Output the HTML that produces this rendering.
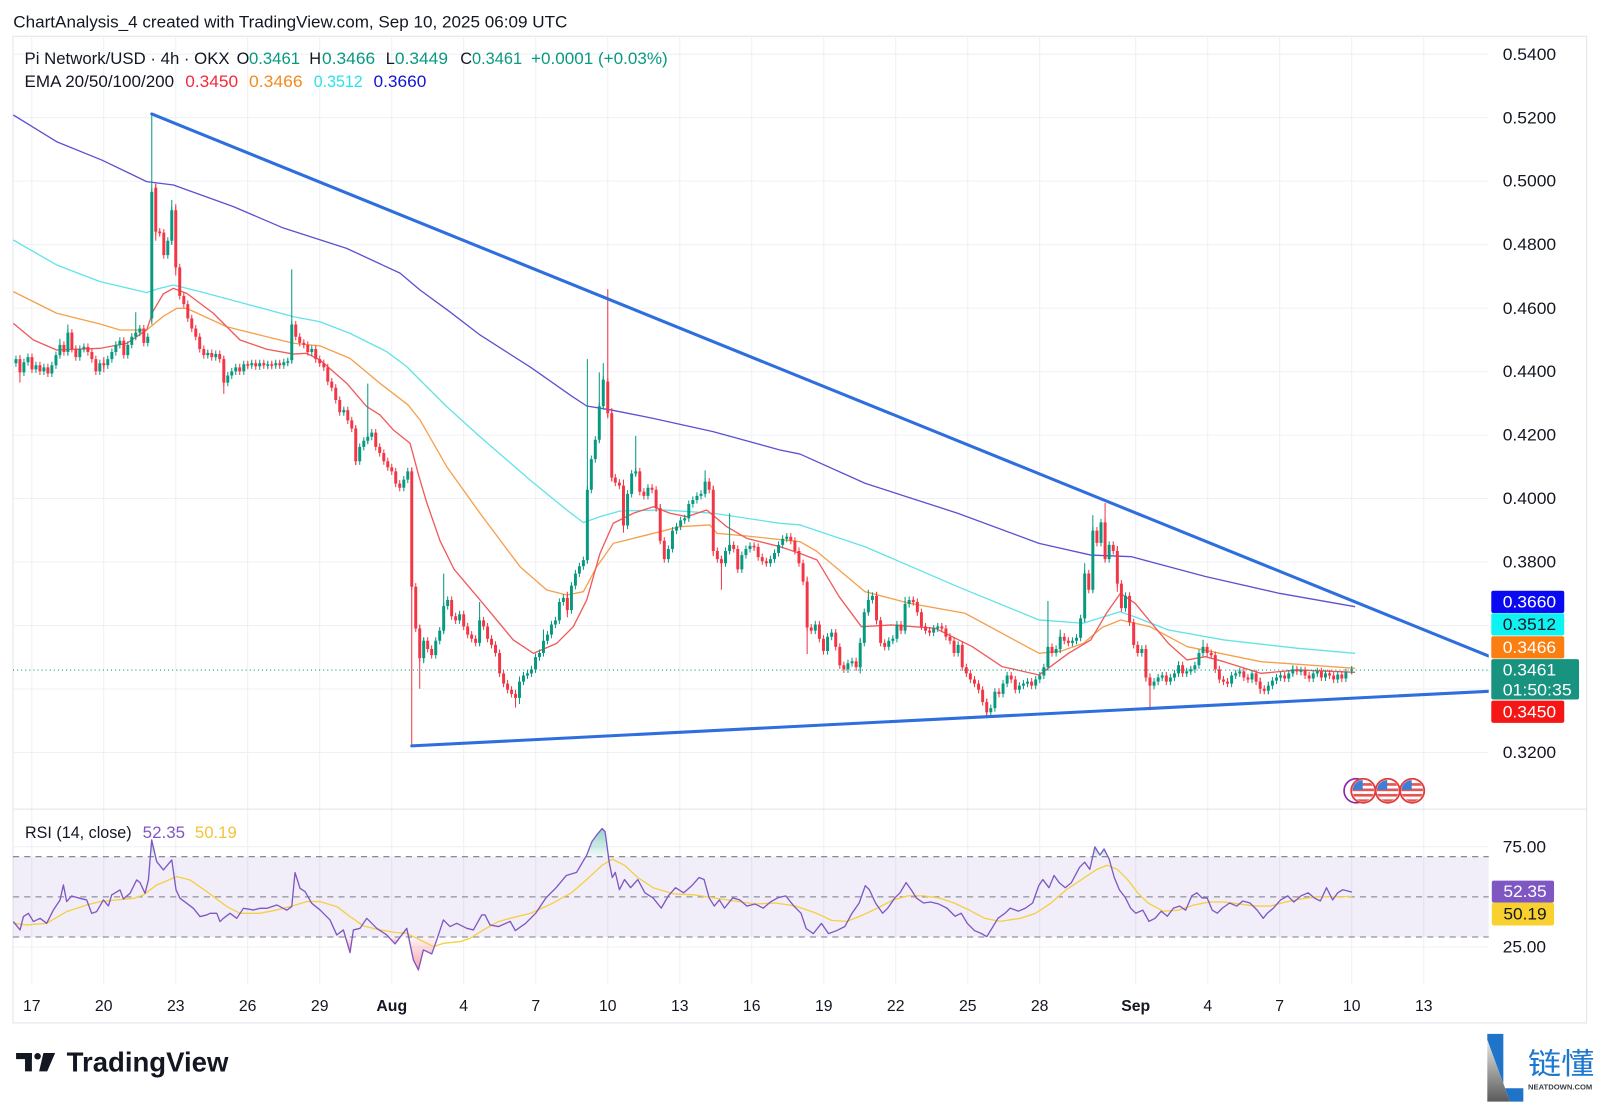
<!DOCTYPE html>
<html><head><meta charset="utf-8">
<style>
html,body{margin:0;padding:0;background:#fff;overflow:hidden;}
svg{display:block;}
text{font-family:"Liberation Sans",Arial,sans-serif;}
</style></head>
<body>
<svg width="1600" height="1103" viewBox="0 0 1568 1081" xmlns="http://www.w3.org/2000/svg">
<defs>
  <clipPath id="mainclip"><rect x="12.7" y="35.5" width="1446.3" height="757.5"/></clipPath>
  <clipPath id="fc"><circle cx="0" cy="0" r="10.6"/></clipPath>
  <linearGradient id="gg" x1="0" y1="0" x2="0" y2="1"><stop offset="0" stop-color="#e6e6e6"/><stop offset="1" stop-color="#5a5a5a"/></linearGradient>
  <linearGradient id="pinkg" x1="0" y1="0" x2="0" y2="1"><stop offset="0" stop-color="#f23645" stop-opacity="0.05"/><stop offset="1" stop-color="#f23645" stop-opacity="0.45"/></linearGradient>
  <linearGradient id="greeng" x1="0" y1="1" x2="0" y2="0"><stop offset="0" stop-color="#089981" stop-opacity="0.05"/><stop offset="1" stop-color="#089981" stop-opacity="0.45"/></linearGradient>
  <marker id="wg" markerUnits="userSpaceOnUse" markerWidth="4" markerHeight="10" refX="2" refY="5" viewBox="0 0 4 10" overflow="visible">
    <line x1="2" y1="1.5" x2="2" y2="8.5" stroke="#089981" stroke-width="1"/>
  </marker>
  <marker id="wr" markerUnits="userSpaceOnUse" markerWidth="4" markerHeight="10" refX="2" refY="5" viewBox="0 0 4 10" overflow="visible">
    <line x1="2" y1="1.5" x2="2" y2="8.5" stroke="#f23645" stroke-width="1"/>
  </marker>
  <g id="flag">
    <circle r="11.8" fill="#fff" stroke="#e23b3b" stroke-width="1.8"/>
    <g clip-path="url(#fc)">
      <rect x="-11" y="-11" width="22" height="22" fill="#fff"/>
      <rect x="-11" y="-7.5" width="22" height="2.6" fill="#e35656"/>
      <rect x="-11" y="-2.2" width="22" height="2.6" fill="#e35656"/>
      <rect x="-11" y="3.1" width="22" height="2.6" fill="#e35656"/>
      <rect x="-11" y="8.4" width="22" height="2.6" fill="#e35656"/>
      <rect x="-11" y="-11" width="10.5" height="10" fill="#3d7fd6"/>
    </g>
  </g>
</defs>

<!-- header -->
<text x="13" y="27" font-size="16.5" fill="#131722" textLength="543" lengthAdjust="spacingAndGlyphs">ChartAnalysis_4 created with TradingView.com, Sep 10, 2025 06:09 UTC</text>

<!-- frame -->
<rect x="12.7" y="35.5" width="1542.3" height="967" fill="none" stroke="#e0e3eb" stroke-width="1"/>

<!-- grid -->
<g stroke="#eef0f5" stroke-width="1">
  <line x1="12.7" x2="1459" y1="53.1" y2="53.1"/>
  <line x1="12.7" x2="1459" y1="115.3" y2="115.3"/>
  <line x1="12.7" x2="1459" y1="177.5" y2="177.5"/>
  <line x1="12.7" x2="1459" y1="239.7" y2="239.7"/>
  <line x1="12.7" x2="1459" y1="302" y2="302"/>
  <line x1="12.7" x2="1459" y1="364.2" y2="364.2"/>
  <line x1="12.7" x2="1459" y1="426.4" y2="426.4"/>
  <line x1="12.7" x2="1459" y1="488.6" y2="488.6"/>
  <line x1="12.7" x2="1459" y1="550.8" y2="550.8"/>
  <line x1="12.7" x2="1459" y1="613" y2="613"/>
  <line x1="12.7" x2="1459" y1="675.3" y2="675.3"/>
  <line x1="12.7" x2="1459" y1="737.5" y2="737.5"/>
  <line x1="12.7" x2="1459" y1="829.8" y2="829.8"/>
  <line x1="12.7" x2="1459" y1="928.1" y2="928.1"/>
  <line x1="31.1" x2="31.1" y1="35.5" y2="965"/>
  <line x1="101.6" x2="101.6" y1="35.5" y2="965"/>
  <line x1="172.2" x2="172.2" y1="35.5" y2="965"/>
  <line x1="242.7" x2="242.7" y1="35.5" y2="965"/>
  <line x1="313.3" x2="313.3" y1="35.5" y2="965"/>
  <line x1="383.9" x2="383.9" y1="35.5" y2="965"/>
  <line x1="454.4" x2="454.4" y1="35.5" y2="965"/>
  <line x1="525" x2="525" y1="35.5" y2="965"/>
  <line x1="595.6" x2="595.6" y1="35.5" y2="965"/>
  <line x1="666.2" x2="666.2" y1="35.5" y2="965"/>
  <line x1="736.7" x2="736.7" y1="35.5" y2="965"/>
  <line x1="807.3" x2="807.3" y1="35.5" y2="965"/>
  <line x1="877.8" x2="877.8" y1="35.5" y2="965"/>
  <line x1="948.4" x2="948.4" y1="35.5" y2="965"/>
  <line x1="1018.9" x2="1018.9" y1="35.5" y2="965"/>
  <line x1="1113" x2="1113" y1="35.5" y2="965"/>
  <line x1="1183.6" x2="1183.6" y1="35.5" y2="965"/>
  <line x1="1254.1" x2="1254.1" y1="35.5" y2="965"/>
  <line x1="1324.7" x2="1324.7" y1="35.5" y2="965"/>
  <line x1="1395.3" x2="1395.3" y1="35.5" y2="965"/>
</g>
<line x1="12.7" x2="1555" y1="793" y2="793" stroke="#e0e3eb" stroke-width="1"/>

<!-- legend -->
<g font-size="16" fill="#131722">
  <text x="24" y="62.8" textLength="201" lengthAdjust="spacingAndGlyphs">Pi Network/USD · 4h · OKX</text>
  <text x="231.9" y="62.8">O</text>
  <text x="244" y="62.8" fill="#089981" textLength="50" lengthAdjust="spacingAndGlyphs">0.3461</text>
  <text x="303" y="62.8">H</text>
  <text x="315.6" y="62.8" fill="#089981" textLength="52" lengthAdjust="spacingAndGlyphs">0.3466</text>
  <text x="378" y="62.8">L</text>
  <text x="387" y="62.8" fill="#089981" textLength="52" lengthAdjust="spacingAndGlyphs">0.3449</text>
  <text x="451" y="62.8">C</text>
  <text x="462.6" y="62.8" fill="#089981" textLength="49" lengthAdjust="spacingAndGlyphs">0.3461</text>
  <text x="520.4" y="62.8" fill="#089981" textLength="134" lengthAdjust="spacingAndGlyphs">+0.0001 (+0.03%)</text>
  <text x="24" y="85.1" textLength="146.6" lengthAdjust="spacingAndGlyphs">EMA 20/50/100/200</text>
  <text x="181.5" y="85.1" fill="#f2293a" textLength="51.8" lengthAdjust="spacingAndGlyphs">0.3450</text>
  <text x="244" y="85.1" fill="#f58a1f" textLength="52.6" lengthAdjust="spacingAndGlyphs">0.3466</text>
  <text x="307.5" y="85.1" fill="#28e3ea" textLength="47.8" lengthAdjust="spacingAndGlyphs">0.3512</text>
  <text x="366" y="85.1" fill="#1212d8" textLength="51.8" lengthAdjust="spacingAndGlyphs">0.3660</text>
</g>

<!-- main pane content -->
<g clip-path="url(#mainclip)">
  <g fill="none" stroke-width="1.3" stroke-linejoin="round">
    <polyline stroke="#5b51d2" points="13,112.7 55.5,138.9 100,157 143.7,178 169.9,181.3 228.7,202.5 277.7,223.5 339.7,243.4 392,267.7 411.6,284.2 440,305 470.4,328.3 520,360 560,388 575,397.9 600,402 640,410 698.8,423 764.4,441 784,445 848,473.7 938.5,503 1018.3,532.5 1069,544 1109,545.6 1181.3,565 1253.8,581.5 1328,594.6"/>
    <polyline stroke="#62e3e8" points="13,235.2 55.5,259.7 98,276 143.7,286.8 155,283 169.9,279.3 196,285.8 245,298.9 287.4,310.3 313.6,315.3 343,326.7 372.4,341.3 379,344.7 398.6,359.3 411.6,372.4 437.8,398.5 470.4,428 519.4,470.4 555.4,499.8 571.7,512.2 588,506.3 607.6,500.8 650,499.8 699,503 764.4,512.9 784,514.5 847.7,535.8 938.5,575 1018.3,607.6 1061.4,610.8 1097.6,599.5 1112,604.4 1145,617.4 1199.5,627.2 1272,635.4 1328,640.3"/>
    <polyline stroke="#f6a04c" points="13,285.8 55.5,307 98,317.5 117.6,323.4 143.7,323.4 160,310 173.2,302.2 183,302.2 222.2,320.2 261.4,330 287.4,336.4 313.6,339 343,351.2 372.4,375.7 400,397 411.6,411.6 437.8,457.4 470.4,503 509.6,555.4 535.8,578.2 555.4,583.1 571.7,579.9 584.8,555.4 601,532.5 627.2,526 666.4,516.2 695.8,514.5 702.4,522.7 731.8,525.3 784,530.9 800,540 847.7,579.9 891.4,591.3 945.7,601 1018.3,640.3 1040,638 1061.7,630.5 1080,615 1098.3,607.6 1127,614.2 1163.6,633.8 1235.8,648.5 1328,655"/>
    <polyline stroke="#f05a5a" points="13,316.9 32.7,333.2 55.5,343 98,341.4 124.1,336.5 143.7,323.4 150,305 160,288 169.9,282.6 183,287.5 209,307 235.2,333.2 261.4,342.3 287.4,347 300.5,346.3 313.6,352.8 339.8,375.7 359.3,398.5 372.4,406.7 385.5,421.4 401.8,434.4 405,446 410,465 418,492 431.2,530 445,558 470.4,588 503,627.2 522.7,640.3 545.6,630.5 561.8,614.2 575,588 588,542.3 601,512.8 620.7,503 640.3,496.6 656.6,503 673,506.4 692.6,499.8 712.2,516.2 731.8,527.6 764.4,535.8 784,542.3 800.7,548.8 822.4,584.8 844.2,614.2 873.2,612.5 916.7,615.8 952.9,633.8 982,653.3 1018.3,661.5 1047.2,640.3 1069,627.2 1085,600 1098,581.5 1112.4,591.3 1145,630.5 1163.3,646.8 1181.3,643.6 1199.5,648.5 1235.8,659.9 1272,656.6 1328,658.9"/>
  </g>

  <!-- long wicks -->
  <path fill="none" stroke="#089981" stroke-width="1" d="M148.7,111.7V318M168.3,196V240M285.9,264V356M360.4,376V434M434.8,562V620M575.6,352V552M591.2,356V400M587.3,365V433M470,590V632M532.6,617V642M623,427V466M691,461V486M715,503V542M851,578V602M1027,589V656M1071,505V580M1063,552V610M1179,627V642M1324.7,655.1V660.4M58.7,332V350M66.5,318V348M133,306V332M843,625V660M887,585V620M1039,617V640M415.2,625V650M509.1,663V690M1155,648V662M1267,652V662M1243,668V680"/>
  <path fill="none" stroke="#f23645" stroke-width="1" d="M152.6,180V236M172.2,200V270M219.3,350V386M403.5,458V731M411.3,612V675M505.2,676V693.5M595.6,283.5V410M599.5,400V472M611,470V522M707,545V578M699,476V545M791,565V641M967,685V703M1083,493V550M1127,660V696M19.5,348V375M101.7,350V365M348.6,418V456M556,580V605M859,580V612M1095,535V580M1123,632V668M647,494V532M1235,664V680"/>

  <!-- green bodies (markers add short wicks) -->
  <path fill="none" stroke="#089981" stroke-width="2.9" marker-start="url(#wg)" marker-mid="url(#wg)" marker-end="url(#wg)" d="M15.6,352V356M23.4,355V365M27.4,350V355M35.2,358V362M43,360V364M50.8,358V366M54.8,348V358M58.7,338V348M66.5,326V345M78.2,342V350M82.2,340V342M97.8,356V364M105.6,352V358M109.6,345V352M113.5,338V345M117.4,334V338M125.2,338V348M129.1,330V338M133,326V330M137,322V326M144.8,330V336M148.7,188V312M164.4,236V250M168.3,206V236M203.6,346V348M211.4,347V350M223.2,368V375M227.1,364V368M231,360V364M238.9,357V364M246.7,356V358M254.5,356V359M262.4,357V358.5M270.2,356V358M278.1,355V358M282,354V355.5M285.9,318V353M305.5,342V345M336.9,402V404M352.5,438V452M356.5,432V438M360.4,428V432M364.3,424V428M395.7,470V478M399.6,462V470M415.2,628V645M427,628V642M430.9,618V628M434.8,594V618M438.7,588V594M450.4,602V608M470,608V630M509.1,668V684M513,662V668M516.9,660V662M520.8,656V660M524.8,644V656M528.7,640V644M532.6,628V640M536.5,622V628M540.4,612V622M544.3,608V612M548.2,590V608M552.1,586V590M560,574V598M563.9,562V574M567.8,555V562M571.7,549V555M575.6,480V549M579.5,450V480M583.4,431V450M587.3,398V431M591.2,372V398M615,484V515M619,464V484M623,462V464M635,478V486M655,538V548M659,520V538M663,516V520M667,510V516M671,508V510M675,494V508M679,490V494M683,486V490M687,484V486M691,472V484M711,540V552M715,534V540M727,544V558M731,538V544M735,535V538M755,548V552M759,542V548M763,534V542M767,528V534M771,526V528M799,612V618M811,624V638M815,620V624M831,650V656M835,648V650M843,630V654M847,600V630M851,588V600M855,584V588M871,628V634M875,626V628M879,612V626M887,592V618M891,588V592M915,616V620M919,614V616M939,632V640M971,694V698M975,678V694M983,670V680M987,662V670M999,672V676M1003,670V672M1007,668V670M1015,666V672M1019,662V666M1023,654V662M1027,634V654M1035,636V640M1039,624V636M1051,628V630M1055,625V628M1059,606V625M1063,562V606M1071,520V578M1079,512V532M1087,534V548M1103,584V596M1119,636V640M1131,668V672M1135,664V668M1139,662V664M1147,664V668M1151,660V664M1155,652V660M1163,658V660M1167,656V658M1171,652V656M1175,640V652M1179,634V640M1207,662V670M1211,660V662M1215,658V660M1227,660V666M1243,672V677M1247,667V672M1251,664V667M1255,662V664M1263,660V665M1267,656V660M1275,657V658.5M1287,660V665M1291,658V660M1299,660V664M1311,661V666M1319,659V665M1324.7,656.2V657.4"/>

  <!-- red bodies -->
  <path fill="none" stroke="#f23645" stroke-width="2.9" marker-start="url(#wr)" marker-mid="url(#wr)" marker-end="url(#wr)" d="M19.5,352V365M31.3,350V362M39.1,358V364M46.9,360V366M62.6,338V345M70.4,326V342M74.3,342V350M86.1,340V345M90,345V352M93.9,352V364M101.7,356V358M121.3,334V348M140.9,322V336M152.6,184V227M156.5,227V228.5M160.5,228V250M172.2,206V262M176.1,262V290M180.1,290V298M184,298V312M187.9,312V322M191.8,322V330M195.7,330V342M199.7,342V348M207.5,346V350M215.3,347V352M219.3,352V375M234.9,360V364M242.8,357V358.5M250.6,356V359M258.5,356V358M266.3,357V358.5M274.1,356V358M289.8,318V330M293.7,330V336M297.7,336V338M301.6,338V345M309.4,342V352M313.3,352V356M317.3,356V360M321.2,360V374M325.1,374V380M329,380V392M332.9,392V404M340.8,402V412M344.7,412V420M348.6,420V452M368.2,424V438M372.1,438V444M376.1,444V452M380,452V458M383.9,458V462M387.8,462V474M391.7,474V478M403.5,462V575M407.4,575V616M411.3,616V645M419.1,628V636M423,636V642M442.6,588V604M446.5,604V608M454.4,602V614M458.3,614V622M462.2,622V626M466.1,626V630M473.9,608V614M477.8,614V626M481.7,626V632M485.6,632V640M489.6,640V660M493.5,660V670M497.4,670V676M501.3,676V680M505.2,680V684M556,586V598M595.6,374V405M599.5,405V468M603,468V473M607,473V476M611,476V515M627,462V482M631,482V486M639,478V480M643,480V498M647,498V530M651,530V548M695,472V480M699,480V540M703,540V548M707,548V552M719,534V538M723,538V558M739,535V536.5M743,536V546M747,546V550M751,550V552M775,526V530M779,530V540M783,540V552M787,552V570M791,570V615M795,615V618M803,612V626M807,626V638M819,620V634M823,634V652M827,652V656M839,648V654M859,584V608M863,608V630M867,630V634M883,612V618M895,588V590M899,590V600M903,600V614M907,614V618M911,618V620M923,614V616M927,616V624M931,624V628M935,628V640M943,632V654M947,654V660M951,660V666M955,666V670M959,670V676M963,676V688M967,688V698M979,678V680M991,662V666M995,666V676M1011,668V672M1031,634V640M1043,624V628M1047,628V630M1067,562V578M1075,520V532M1083,512V548M1091,534V540M1095,540V572M1099,572V596M1107,584V610M1111,610V632M1115,632V640M1123,636V664M1127,664V672M1143,662V668M1159,652V660M1183,634V640M1187,640V642M1191,642V656M1195,656V666M1199,666V668M1203,668V670M1219,658V664M1223,664V666M1231,660V668M1235,668V675M1239,675V677M1259,662V665M1271,656V658M1279,657V662M1283,662V665M1295,658V664M1303,660V662M1307,662V666M1315,661V665"/>

  <line x1="12.7" x2="1459" y1="656.7" y2="656.7" stroke="#089981" stroke-width="1" stroke-dasharray="1 3"/>
  <line x1="148.7" y1="111.7" x2="1459" y2="643" stroke="#2f6edf" stroke-width="3" stroke-linecap="round"/>
  <line x1="403.5" y1="731" x2="1459" y2="677.5" stroke="#2f6edf" stroke-width="3" stroke-linecap="round"/>
</g>

<!-- flags -->
<circle cx="1329" cy="775" r="11.8" fill="#fff" stroke="#8e24aa" stroke-width="1.6"/>
<use href="#flag" x="1336" y="775"/>
<use href="#flag" x="1360" y="775"/>
<use href="#flag" x="1384" y="775"/>

<!-- price axis -->
<g font-size="16" fill="#131722">
  <text x="1472.7" y="58.6" textLength="52.4" lengthAdjust="spacingAndGlyphs">0.5400</text>
  <text x="1472.7" y="120.8" textLength="52.4" lengthAdjust="spacingAndGlyphs">0.5200</text>
  <text x="1472.7" y="183" textLength="52.4" lengthAdjust="spacingAndGlyphs">0.5000</text>
  <text x="1472.7" y="245.2" textLength="52.4" lengthAdjust="spacingAndGlyphs">0.4800</text>
  <text x="1472.7" y="307.5" textLength="52.4" lengthAdjust="spacingAndGlyphs">0.4600</text>
  <text x="1472.7" y="369.7" textLength="52.4" lengthAdjust="spacingAndGlyphs">0.4400</text>
  <text x="1472.7" y="431.9" textLength="52.4" lengthAdjust="spacingAndGlyphs">0.4200</text>
  <text x="1472.7" y="494.1" textLength="52.4" lengthAdjust="spacingAndGlyphs">0.4000</text>
  <text x="1472.7" y="556.3" textLength="52.4" lengthAdjust="spacingAndGlyphs">0.3800</text>
  <text x="1472.7" y="743" textLength="52.4" lengthAdjust="spacingAndGlyphs">0.3200</text>
  <text x="1472.7" y="835.3" textLength="42.5" lengthAdjust="spacingAndGlyphs">75.00</text>
  <text x="1472.7" y="933.6" textLength="42.5" lengthAdjust="spacingAndGlyphs">25.00</text>
</g>
<g font-size="16">
  <rect x="1461.5" y="579" width="71.5" height="21.8" rx="2" fill="#0a0af2"/>
  <text x="1472.7" y="595.4" fill="#fff" textLength="52.4" lengthAdjust="spacingAndGlyphs">0.3660</text>
  <rect x="1461.5" y="601" width="71.5" height="21.8" rx="2" fill="#0ff2f2"/>
  <text x="1472.7" y="617.4" fill="#131722" textLength="52.4" lengthAdjust="spacingAndGlyphs">0.3512</text>
  <rect x="1461.5" y="623.5" width="71.5" height="21.8" rx="2" fill="#fb7e10"/>
  <text x="1472.7" y="639.9" fill="#fff" textLength="52.4" lengthAdjust="spacingAndGlyphs">0.3466</text>
  <rect x="1461.5" y="646" width="86" height="39.6" rx="2" fill="#17937f"/>
  <text x="1472.7" y="662" fill="#fff" textLength="52.4" lengthAdjust="spacingAndGlyphs">0.3461</text>
  <text x="1472.7" y="681.6" fill="#fff" textLength="67.6" lengthAdjust="spacingAndGlyphs">01:50:35</text>
  <rect x="1461.5" y="686.6" width="71.5" height="21.8" rx="2" fill="#f51616"/>
  <text x="1472.7" y="703" fill="#fff" textLength="52.4" lengthAdjust="spacingAndGlyphs">0.3450</text>
  <rect x="1462" y="863" width="61" height="21.6" rx="2" fill="#7e57c2"/>
  <text x="1473.3" y="879.3" fill="#fff" textLength="42.5" lengthAdjust="spacingAndGlyphs">52.35</text>
  <rect x="1462" y="884.6" width="61" height="22.4" rx="2" fill="#f8d12f"/>
  <text x="1473.3" y="901.2" fill="#131722" textLength="42.5" lengthAdjust="spacingAndGlyphs">50.19</text>
</g>

<!-- RSI pane -->
<rect x="12.7" y="839.6" width="1446.3" height="78.7" fill="#7e57c2" fill-opacity="0.1"/>
<g stroke="#787b86" stroke-width="1" stroke-dasharray="6 5">
  <line x1="12.7" x2="1459" y1="839.6" y2="839.6"/>
  <line x1="12.7" x2="1459" y1="879" y2="879"/>
  <line x1="12.7" x2="1459" y1="918.3" y2="918.3"/>
</g>
<polygon fill="url(#greeng)" points="147.3,839.6 148.6,823.2 152.4,839.6"/>
<polygon fill="url(#greeng)" points="574.1,839.6 575,838 580,825 585,818 590,812 593,815 596.3,839.6"/>
<polygon fill="url(#greeng)" points="1070.8,839.6 1073,830 1078,838 1082,832 1085.8,839.6"/>
<polygon fill="url(#pinkg)" points="338.5,918.3 343,933.6 345.6,918.3"/>
<polygon fill="url(#pinkg)" points="380.8,918.3 387.1,925.1 392.2,918.3"/>
<polygon fill="url(#pinkg)" points="400.4,918.3 405.1,940.8 410,950.6 414.9,931 423.1,934.9 428,921.2 429,918.3"/>

<polyline fill="none" stroke="#f5cf45" stroke-width="1.3" stroke-linejoin="round" points="13,904.9 26.1,906.5 45.7,904.9 65.3,893.4 84.9,886.9 98,883.6 114.3,882 130.7,880.4 140.5,877.1 153.5,867.3 173.2,859.1 186.2,862.4 202.6,873.8 222.2,888.5 235.2,895.1 254.8,895.1 271.2,891.8 284.2,888.5 300.6,883.6 313.6,883.6 330,888.5 343,898.3 356.1,907.5 372.4,911.4 388.8,914 398.6,914.7 411.6,921.2 424.7,927.7 434.5,924.5 450.9,922.8 460.6,919.6 473.7,911.4 488.4,903.2 500,900 520,895 540,886 560,875 575,862 590,848 600,842 612,848 625,860 640,870 660,876 680,877 700,880 720,883 740,886 760,885 780,888 800,895 815,902 830,903 845,897 860,890 875,882 890,878 905,878 920,880 935,885 950,892 965,900 980,903 1000,900 1015,895 1030,885 1045,872 1060,862 1075,852 1085,848 1095,852 1105,862 1115,875 1125,885 1140,893 1155,892 1170,887 1185,884 1200,884 1215,886 1230,888 1245,888 1260,884 1275,881 1290,879 1305,879 1325,878.6"/>
<polyline fill="none" stroke="#7e57c2" stroke-width="1.3" stroke-linejoin="round" points="13,903.2 19.6,911.4 22.9,898.3 27.8,895.1 32.7,903.2 39.2,900 45.7,904.9 52.3,891.8 58.8,882 62.1,867.3 65.3,883.6 70.2,878.1 78.4,880.4 84.9,882 89.8,895.1 94.7,893.4 101.3,882 106.2,887.9 109.4,877.1 117.6,872.2 120.9,881 127.4,875.5 133.9,862.4 137.2,865 142.1,875.5 145.4,862.4 148.6,823.2 153.5,844.4 160.1,852.6 168.3,842.8 172.5,872.2 176.4,880.4 183,885.3 189.5,890.2 196,898.3 202.6,896.7 205.8,895.1 212.4,895.1 215.6,903.2 218.9,900 225.4,895.1 232,900 238.5,890.2 248.3,891.8 254.8,890.2 261.4,890.2 271.2,886.9 281,892 285.9,888.5 289.1,855.2 294,870.6 298.9,873.8 305.5,885.3 313.6,891.8 323.4,901.6 330,916.3 336.5,911.4 343,933.6 346.3,911.4 352.8,909.8 359.4,900 369.2,909.8 379,916.3 387.1,925.1 393.7,916.3 398.6,909.8 405.1,940.8 410,950.6 414.9,931 423.1,934.9 428,921.2 434.5,901.6 441,908.1 447.6,904.9 457.4,909.8 463.9,911.4 472.1,896.7 475.3,896.7 480.2,906.5 488.4,908.1 500,903 505,912 515,905 525,895 535,880 545,870 555,858 565,855 575,838 580,825 585,818 590,812 593,815 597,845 600,860 603,855 607,872 612,862 618,870 625,862 632,875 640,880 648,890 655,878 662,870 670,875 678,868 685,860 690,862 695,880 700,888 705,882 710,890 718,880 725,882 732,888 740,886 748,890 755,884 762,880 770,878 778,888 785,895 790,910 797,915 805,905 812,915 820,912 828,908 835,895 842,885 848,868 852,872 858,885 865,895 870,890 877,880 882,875 888,865 893,872 898,880 905,885 912,884 920,886 928,890 936,898 942,895 948,905 955,912 962,915 967,918 972,910 978,900 985,895 990,890 998,893 1005,890 1012,885 1018,868 1022,862 1028,870 1033,858 1038,865 1044,870 1050,865 1058,850 1063,845 1068,852 1073,830 1078,838 1082,832 1087,842 1092,860 1097,872 1103,880 1108,890 1113,895 1120,892 1126,903 1132,900 1138,893 1144,898 1150,890 1156,888 1162,892 1168,878 1173,875 1178,880 1183,880 1188,892 1193,895 1198,890 1205,885 1212,888 1218,883 1225,885 1232,892 1238,900 1242,895 1248,890 1255,882 1262,878 1268,884 1275,878 1282,875 1288,880 1294,883 1300,870 1306,882 1311,875 1316,872 1325,874.3"/>
<text x="24.5" y="821.3" font-size="16" fill="#131722" textLength="104.5" lengthAdjust="spacingAndGlyphs">RSI (14, close)</text>
<text x="139.8" y="821.3" font-size="16" fill="#7e57c2" textLength="41.5" lengthAdjust="spacingAndGlyphs">52.35</text>
<text x="191" y="821.3" font-size="16" fill="#f2c43a" textLength="41" lengthAdjust="spacingAndGlyphs">50.19</text>

<!-- time axis -->
<g font-size="15.5" fill="#131722" text-anchor="middle">
  <text x="31.1" y="991">17</text>
  <text x="101.6" y="991">20</text>
  <text x="172.2" y="991">23</text>
  <text x="242.7" y="991">26</text>
  <text x="313.3" y="991">29</text>
  <text x="383.9" y="991" font-weight="bold">Aug</text>
  <text x="454.4" y="991">4</text>
  <text x="525" y="991">7</text>
  <text x="595.6" y="991">10</text>
  <text x="666.2" y="991">13</text>
  <text x="736.7" y="991">16</text>
  <text x="807.3" y="991">19</text>
  <text x="877.8" y="991">22</text>
  <text x="948.4" y="991">25</text>
  <text x="1018.9" y="991">28</text>
  <text x="1113" y="991" font-weight="bold">Sep</text>
  <text x="1183.6" y="991">4</text>
  <text x="1254.1" y="991">7</text>
  <text x="1324.7" y="991">10</text>
  <text x="1395.3" y="991">13</text>
</g>

<!-- TradingView logo -->
<g fill="#131722">
  <rect x="15.7" y="1032" width="15.5" height="6"/>
  <rect x="24.5" y="1032" width="6.7" height="18"/>
  <circle cx="36.8" cy="1035.2" r="3.2"/>
  <polygon points="42.5,1032 54,1032 46.2,1050 38.3,1050"/>
  <text x="65.3" y="1050" font-size="27" font-weight="bold" textLength="158.5" lengthAdjust="spacingAndGlyphs">TradingView</text>
</g>

<!-- NeatDown logo -->
<polygon points="1457.6,1013.3 1473.3,1013.3 1473.3,1066.6 1492.9,1066.6 1492.9,1079.7 1479.8,1079.7 1457.6,1019.2" fill="#1f73c9"/>
<polygon points="1457.6,1019.2 1479.8,1079.7 1457.6,1079.7" fill="url(#gg)"/>
<text x="1497.5" y="1052.5" font-size="29" fill="#1f78cf" font-family="'Liberation Sans','Noto Sans CJK SC',sans-serif" textLength="65" lengthAdjust="spacingAndGlyphs">链懂</text>
<text x="1497.5" y="1068" font-size="7.5" font-weight="bold" fill="#3a3f48" textLength="63" lengthAdjust="spacingAndGlyphs">NEATDOWN.COM</text>
</svg>
</body></html>
